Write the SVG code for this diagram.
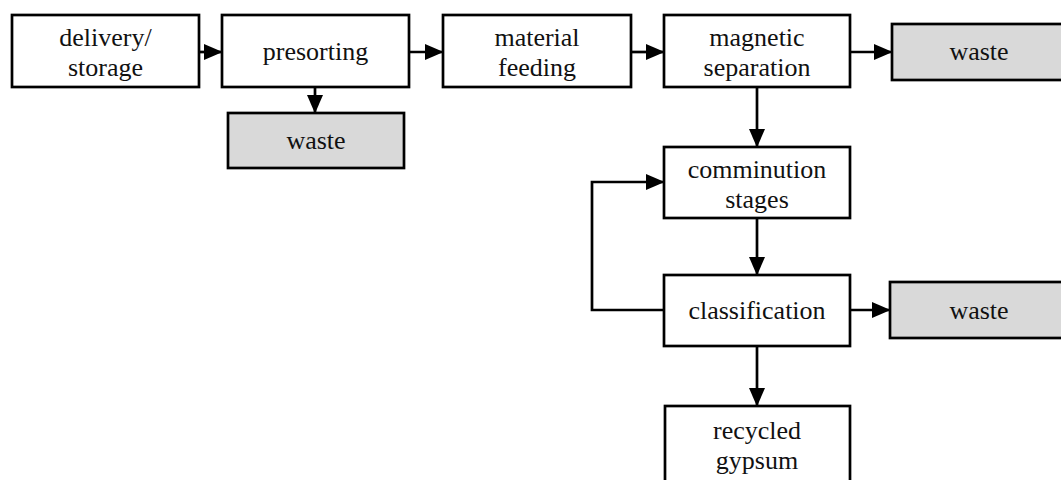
<svg xmlns="http://www.w3.org/2000/svg" width="1061" height="480" viewBox="0 0 1061 480">
<style>
.box{fill:#fff;stroke:#000;stroke-width:2.7}
.waste{fill:#d9d9d9;stroke:#000;stroke-width:2.7}
.t{font-family:"Liberation Serif","Times New Roman",serif;font-size:26px;fill:#111;text-anchor:middle}
.c{fill:none;stroke:#000;stroke-width:2.7}
</style>
<defs>
<marker id="ah" markerWidth="7" markerHeight="7" refX="6.4" refY="3" orient="auto" markerUnits="strokeWidth" viewBox="0 0 7 6">
<path d="M0,0 L7,3 L0,6 Z" fill="#000"/>
</marker>
</defs>
<rect width="1061" height="480" fill="#fff"/>
<g id="connectors">
<path class="c" d="M199,52 H221" marker-end="url(#ah)"/>
<path class="c" d="M409,52 H442" marker-end="url(#ah)"/>
<path class="c" d="M631,52 H663" marker-end="url(#ah)"/>
<path class="c" d="M850,52 H891" marker-end="url(#ah)"/>
<path class="c" d="M315,87 V112" marker-end="url(#ah)"/>
<path class="c" d="M757,87 V146" marker-end="url(#ah)"/>
<path class="c" d="M757,218 V274" marker-end="url(#ah)"/>
<path class="c" d="M664,310 H592 V182 H663" marker-end="url(#ah)"/>
<path class="c" d="M850,310 H889" marker-end="url(#ah)"/>
<path class="c" d="M757,346 V405" marker-end="url(#ah)"/>
</g>
<g id="delivery">
<rect class="box" x="12" y="15" width="187" height="72"/>
<text class="t" x="105.5" y="46">delivery/</text>
<text class="t" x="105.5" y="76">storage</text>
</g>
<g id="presorting">
<rect class="box" x="222" y="15" width="187" height="72"/>
<text class="t" x="315.5" y="60">presorting</text>
</g>
<g id="waste1">
<rect class="waste" x="228" y="113" width="176" height="55"/>
<text class="t" x="316" y="149">waste</text>
</g>
<g id="material">
<rect class="box" x="443" y="15" width="188" height="72"/>
<text class="t" x="537" y="46">material</text>
<text class="t" x="537" y="76">feeding</text>
</g>
<g id="magnetic">
<rect class="box" x="664" y="15" width="186" height="72"/>
<text class="t" x="757" y="46">magnetic</text>
<text class="t" x="757" y="76">separation</text>
</g>
<g id="waste2">
<rect class="waste" x="892" y="24" width="180" height="56"/>
<text class="t" x="979" y="60">waste</text>
</g>
<g id="comminution">
<rect class="box" x="664" y="147" width="186" height="71"/>
<text class="t" x="757" y="178">comminution</text>
<text class="t" x="757" y="208">stages</text>
</g>
<g id="classification">
<rect class="box" x="664" y="275" width="186" height="71"/>
<text class="t" x="757" y="319">classification</text>
</g>
<g id="waste3">
<rect class="waste" x="890" y="282" width="180" height="56"/>
<text class="t" x="979" y="319">waste</text>
</g>
<g id="recycled">
<rect class="box" x="665" y="406" width="185" height="85"/>
<text class="t" x="757" y="439">recycled</text>
<text class="t" x="757" y="469">gypsum</text>
</g>
</svg>
